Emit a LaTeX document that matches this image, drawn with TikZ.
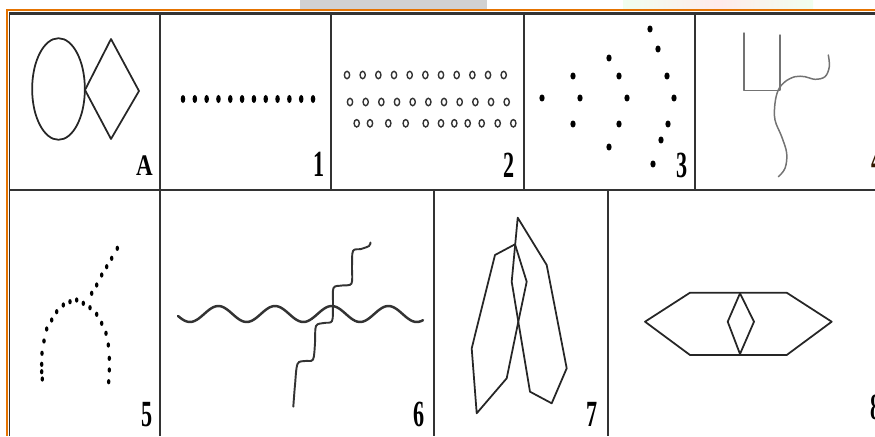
\documentclass[tikz,border=0pt]{standalone}
\usepackage{fontspec}
\setmainfont{Liberation Serif}
\usepackage{graphicx}
\usetikzlibrary{calc}

\tikzset{
  gridline/.style={line width=0.8pt, black!80},
  rowline/.style={line width=1.4pt, black!80},
  figline/.style={line width=1pt, black!85, line join=round},
  waveline/.style={line width=1.4pt, black!80, line cap=round},
  pencil/.style={line width=0.85pt, black!55, line join=round, line cap=round},
  ring/.style={draw=black!80, line width=0.8pt},
  tag/.style={inner sep=0pt, font=\fontsize{21}{21}\selectfont\bfseries}
}
\newcommand{\narrow}[1]{\scalebox{0.6}[1]{#1}}

\begin{document}
\begin{tikzpicture}[x=0.02cm, y=-0.02cm]
    \useasboundingbox (0,0) rectangle (875,436);
    \clip (0,0) rectangle (875,436);

    % Strips above the frame
    \fill[black!18] (300,0) rectangle (487,9.5);
    \shade[left color=green!6, right color=green!6, middle color=red!8] (623,0) rectangle (813,9.5);

    % Orange border
    \draw[orange!90!black, line width=1.3pt] (7,436) -- (7,10) -- (875,10);

    % Draw the cells
    \draw[rowline] (9,13.5) -- (875,13.5);
    \draw[rowline] (9,190) -- (875,190);
    \draw[gridline] (9.5,13) -- (9.5,436);
    \foreach \x in {160,331,524,695} {
        \draw[gridline] (\x,13.5) -- (\x,190);
    }
    \foreach \x in {160,434,608} {
        \draw[gridline] (\x,190) -- (\x,436);
    }

    % A: circle and diamond
    \draw[figline] (58.5,89) ellipse [x radius=15pt, y radius=28.9pt];
    \draw[figline] (85,90) -- (111,39) -- (139,91) -- (111,139) -- cycle;

    % 1: row of dots
    \foreach \i in {0,...,11} {
        \fill (183+11.82*\i,99) ellipse [x radius=1.3pt, y radius=2.3pt];
    }

    % 2: rows of small rings
    \foreach \i in {0,...,10} {
        \draw[ring] (347+15.67*\i,75) ellipse [x radius=1.5pt, y radius=2.1pt];
        \draw[ring] (350+15.67*\i,102) ellipse [x radius=1.5pt, y radius=2.1pt];
    }
    \foreach \x in {356.7,370,388.3,405.7,425.7,441,454.3,467.7,481.7,497.7,513.3} {
        \draw[ring] (\x,123.3) ellipse [x radius=1.5pt, y radius=2.1pt];
    }

    % 3: dotted arcs
    \foreach \x/\y in {542/98, 573/76, 580/98, 573/124, 609/58, 619/76, 627/98,
                       619/124, 609/147, 650/29, 658/49, 667/76, 674/98, 668/124,
                       661/140, 653/164} {
        \fill (\x,\y) ellipse [x radius=1.5pt, y radius=2pt];
    }

    % 4: pencil strokes
    \draw[pencil] (744,33) -- (744,90.5) -- (779.5,90.5);
    \draw[pencil] (780,35) -- (780,90);
    \draw[pencil] plot[smooth, tension=0.6] coordinates {(828.3,55) (829.3,66.7)
        (825,76.7) (815,79.3) (805,76.7) (795,76.7) (785,81.7) (778.3,90)
        (775,103.3) (775,120) (781.7,136.7) (786.7,153.3) (785,168.3) (778.3,176.7)};

    % 5: dotted arch and branch
    \foreach \x/\y in {42.3/379, 41.7/371.7, 41.7/364.3, 42/353.3, 44/341, 46.7/329,
                       51.7/320, 56.7/311.7, 63.3/305, 70/301.7, 76.7/300, 83.3/303.3,
                       90/307.7, 96.7/314.3, 101.7/323.3, 106/333.3, 108.3/345,
                       109.3/358.3, 109.3/370, 108.7/381.7, 91.7/293.3, 96.7/285,
                       101.7/275, 106.7/266.7, 111.7/258.3, 117.3/248.3} {
        \fill (\x,\y) ellipse [x radius=1pt, y radius=1.5pt];
    }

    % 6: crossing waves
    \draw[waveline] plot[domain=178:423, samples=120] (\x, {314-8*cos(6.349*(\x-331.7))});
    \draw[waveline, line width=1.1pt] plot[smooth, tension=0.55] coordinates {(293.3,406.7)
        (295,385) (297.5,364) (305,361) (313,359.5) (315,343) (316,326) (324,323)
        (332,321) (333,305) (333.5,288) (342,285.5) (351.5,283.5) (352,267)
        (353,251) (361,249) (369,246) (370.5,242.5)};

    % 7: two overlapping polygons
    \draw[figline] (517.7,217.7) -- (546.7,265) -- (566.7,368.3) -- (551.7,403.3)
        -- (530,391.7) -- (518.3,321.7) -- (511.7,281.7) -- cycle;
    \draw[figline] (515,244.3) -- (495,255) -- (471.7,348.3) -- (476.7,413.3)
        -- (506.7,378.3) -- (518.3,321.7) -- (526.7,281.7) -- cycle;

    % 8: hexagon with inner diamond
    \draw[figline] (645,321.7) -- (690,292.7) -- (786.7,292.7) -- (831.7,321.7)
        -- (786.7,355) -- (690,355) -- cycle;
    \draw[figline] (740,293.3) -- (754,321.7) -- (740,354) -- (727.7,321.7) -- cycle;

    % Labels
    \node[tag, anchor=south east] (labA) at (153,176)
        {\fontsize{17}{17}\selectfont\scalebox{0.77}[1]{A}};
    \node[tag, anchor=south east] (lab1) at (325,177) {\narrow{1}};
    \node[tag, anchor=south east] (lab2) at (515,178) {\narrow{2}};
    \node[tag, anchor=south east] (lab3) at (688,178) {\narrow{3}};
    \node[tag, anchor=south west, text=black!80!orange] (lab4) at (871,173) {\narrow{4}};
    \node[tag, anchor=south east] (lab5) at (153,427) {\narrow{5}};
    \node[tag, anchor=south east] (lab6) at (425,427) {\narrow{6}};
    \node[tag, anchor=south east] (lab7) at (598,427) {\narrow{7}};
    \node[tag, anchor=south west] (lab8) at (870,420) {\narrow{8}};
\end{tikzpicture}
\end{document}
